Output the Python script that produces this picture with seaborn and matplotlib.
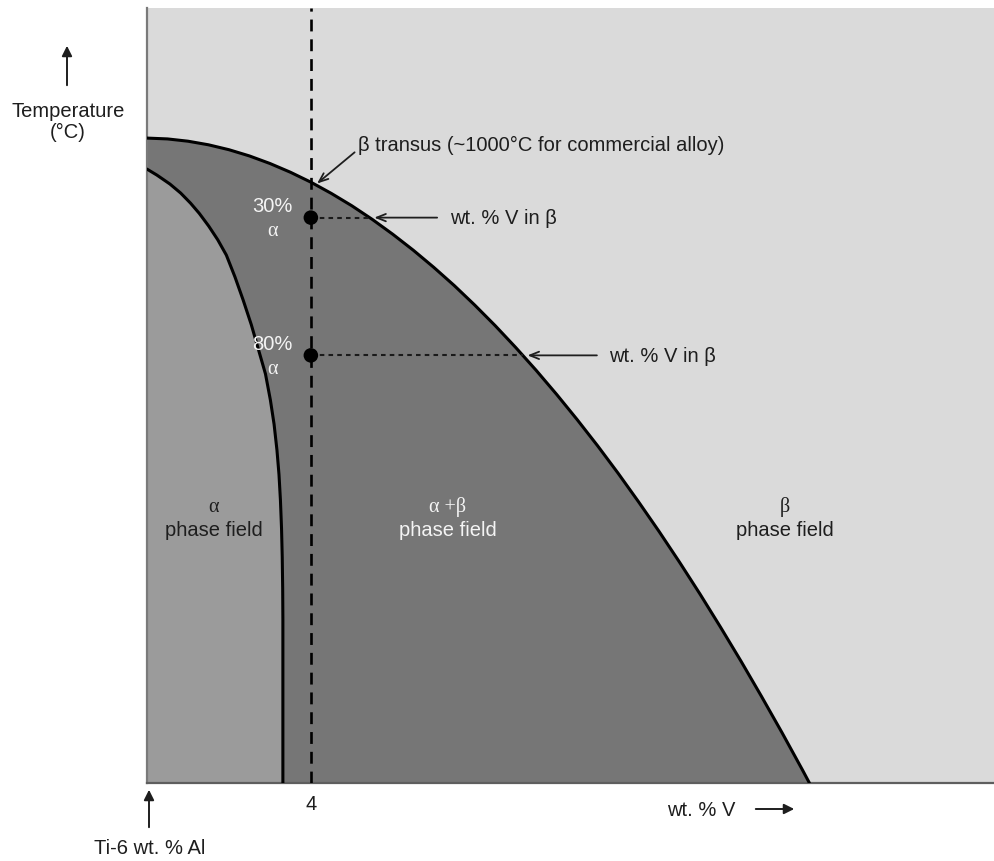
import matplotlib
matplotlib.use("Agg")
import matplotlib.pyplot as plt
import seaborn as sns
import pandas as pd

# ---------------- data ----------------
# beta transus line: (wt.% V, temperature in deg C, schematic scale)
beta_x = [0, 0.5, 1, 1.5, 2, 2.5, 3, 3.5, 4, 4.5, 5, 5.5, 6, 6.5, 7, 7.5, 8,
          8.5, 9, 9.5, 10, 10.5, 11, 11.5, 12, 12.5, 13, 13.5, 14, 14.5, 15,
          15.5, 16, 16.17]
beta_T = [1038.4, 1037.7, 1035.8, 1032.8, 1028.7, 1023.5, 1017.2, 1009.9,
          1001.6, 992.2, 981.9, 970.5, 958.1, 944.8, 930.5, 915.3, 899.0,
          881.8, 863.6, 844.5, 824.4, 803.4, 781.5, 758.6, 734.7, 710.0,
          684.3, 657.7, 630.1, 601.7, 572.3, 542.1, 510.9, 500.0]

# alpha / (alpha+beta) boundary
alpha_x = [0.000, 0.242, 0.561, 0.822, 1.062, 1.277, 1.507, 1.727, 1.937,
           2.147, 2.347, 2.547, 2.717, 2.892, 3.012, 3.102, 3.172, 3.222,
           3.257, 3.284, 3.301, 3.312, 3.317, 3.317]
alpha_T = [1012.5, 1007.5, 1000.0, 992.5, 984.1, 975.5, 964.9, 953.5, 940.7,
           922.5, 903.2, 882.5, 862.3, 841.5, 819.7, 799.5, 778.0, 757.5,
           736.2, 712.5, 688.6, 662.5, 636.1, 500.0]

alloy_V = 4                      # Ti-6Al-4V composition
dot_T = [972, 857]               # two temperatures marked on the alloy line
dot_frac = ["30%", "80%"]        # fraction alpha at those temperatures
beta_V_at_dot = [5.43, 9.17]     # wt.% V of beta at those temperatures

T_min, T_max = 500, 1147
V_max = 20.7

# ---------------- style ----------------
sns.set_theme(style="white")
plt.rcParams['font.family'] = ['Liberation Sans', 'DejaVu Sans']
FS = 14.5
BG = "#dadada"
ALPHA_C = "#9b9b9b"
AB_C = "#767676"
TXT = "#1e1e1e"
WHITE = "#f4f4f4"
serif = ["Liberation Serif", "DejaVu Serif"]

fig = plt.figure(figsize=(9.95, 8.61), dpi=100)
ax = fig.add_axes([147 / 995, 78 / 861, 848 / 995, 775 / 861])
ax.set_facecolor(BG)
ax.set_xlim(0, V_max)
ax.set_ylim(T_min, T_max)

# fields
ax.fill_between(beta_x, T_min, beta_T, color=AB_C, lw=0, zorder=1)
ax.fill_betweenx(alpha_T, 0, alpha_x, color=ALPHA_C, lw=0, zorder=2)

df_b = pd.DataFrame({"V": beta_x, "T": beta_T})
df_a = pd.DataFrame({"V": alpha_x, "T": alpha_T})
sns.lineplot(data=df_b, x="V", y="T", sort=False, estimator=None,
             color="black", lw=2.2, ax=ax, zorder=4)
sns.lineplot(data=df_a, x="V", y="T", sort=False, estimator=None,
             color="black", lw=2.2, ax=ax, zorder=4)

# alloy composition line
ax.axvline(alloy_V, color="black", lw=1.9, ls=(0, (4.5, 3)), zorder=5)

# tie lines to beta transus
for T, xb in zip(dot_T, beta_V_at_dot):
    ax.plot([alloy_V, xb], [T, T], color="#1a1a1a", lw=1.5, ls=(0, (2.2, 2)), zorder=5)

df_d = pd.DataFrame({"V": [alloy_V] * len(dot_T), "T": dot_T})
sns.scatterplot(data=df_d, x="V", y="T", color="black", s=110, ax=ax,
                zorder=6, edgecolor="none")

# fraction labels
for T, lab in zip(dot_T, dot_frac):
    ax.text(3.07, T + 9, lab, color=WHITE, fontsize=FS, ha="center", va="center", zorder=7)
    ax.text(3.07, T - 12, "α", color=WHITE, fontsize=FS, ha="center", va="center",
            family=serif, zorder=7)

# arrows to the beta transus
arrow_kw = dict(arrowstyle="->,head_length=0.55,head_width=0.22", color="#1e1e1e", lw=1.3)
ax.annotate("", xy=(4.1, 999), xytext=(5.12, 1028), arrowprops=arrow_kw, zorder=7)
ax.text(5.15, 1032, "β transus (~1000°C for commercial alloy)", color=TXT,
        fontsize=FS, ha="left", va="center")
for T, xb, xt in zip(dot_T, beta_V_at_dot, [7.15, 11.05]):
    ax.annotate("", xy=(xb + 0.05, T), xytext=(xt, T), arrowprops=arrow_kw, zorder=7)
    ax.text(xt + 0.24, T - 1, "wt. % V in β", color=TXT, fontsize=FS,
            ha="left", va="center")

# field labels
for xc, top, col in [(1.63, "α", TXT), (7.34, "α +β", WHITE), (15.56, "β", TXT)]:
    ax.text(xc, 730, top, color=col, fontsize=FS, ha="center", va="center", family=serif)
    ax.text(xc, 711, "phase field", color=col, fontsize=FS, ha="center", va="center")

# axes decoration
ax.set_xticks([alloy_V])
ax.set_xticklabels(["4"], fontsize=FS, color=TXT)
ax.set_yticks([])
ax.tick_params(axis="x", length=0, pad=9)
ax.set_xlabel("")
ax.set_ylabel("")
for s in ["top", "right"]:
    ax.spines[s].set_visible(False)
ax.spines["left"].set_color("#7a7a7a")
ax.spines["left"].set_linewidth(1.6)
ax.spines["bottom"].set_color("#5e5e5e")
ax.spines["bottom"].set_linewidth(1.6)

# outside labels (figure coords)
fig.text(68 / 995, 1 - 122 / 861, "Temperature\n(°C)", ha="center", va="center",
         fontsize=FS, color=TXT, linespacing=1.15)
fig.add_artist(matplotlib.patches.FancyArrowPatch(
    (67 / 995, 1 - 88 / 861), (67 / 995, 1 - 43 / 861), transform=fig.transFigure,
    arrowstyle="-|>,head_length=6,head_width=3", color="#1e1e1e", lw=1.4))
fig.text(150 / 995, 1 - 848 / 861, "Ti-6 wt. % Al", ha="center", va="center",
         fontsize=FS, color=TXT)
fig.add_artist(matplotlib.patches.FancyArrowPatch(
    (149 / 995, 1 - 830 / 861), (149 / 995, 1 - 787 / 861), transform=fig.transFigure,
    arrowstyle="-|>,head_length=6,head_width=3", color="#1e1e1e", lw=1.4))
fig.text(667 / 995, 1 - 810 / 861, "wt. % V", ha="left", va="center",
         fontsize=FS, color=TXT)
fig.add_artist(matplotlib.patches.FancyArrowPatch(
    (753 / 995, 1 - 809 / 861), (797 / 995, 1 - 809 / 861), transform=fig.transFigure,
    arrowstyle="-|>,head_length=6,head_width=3", color="#1e1e1e", lw=1.4))

fig.savefig("out.png", dpi=100, facecolor="white")
